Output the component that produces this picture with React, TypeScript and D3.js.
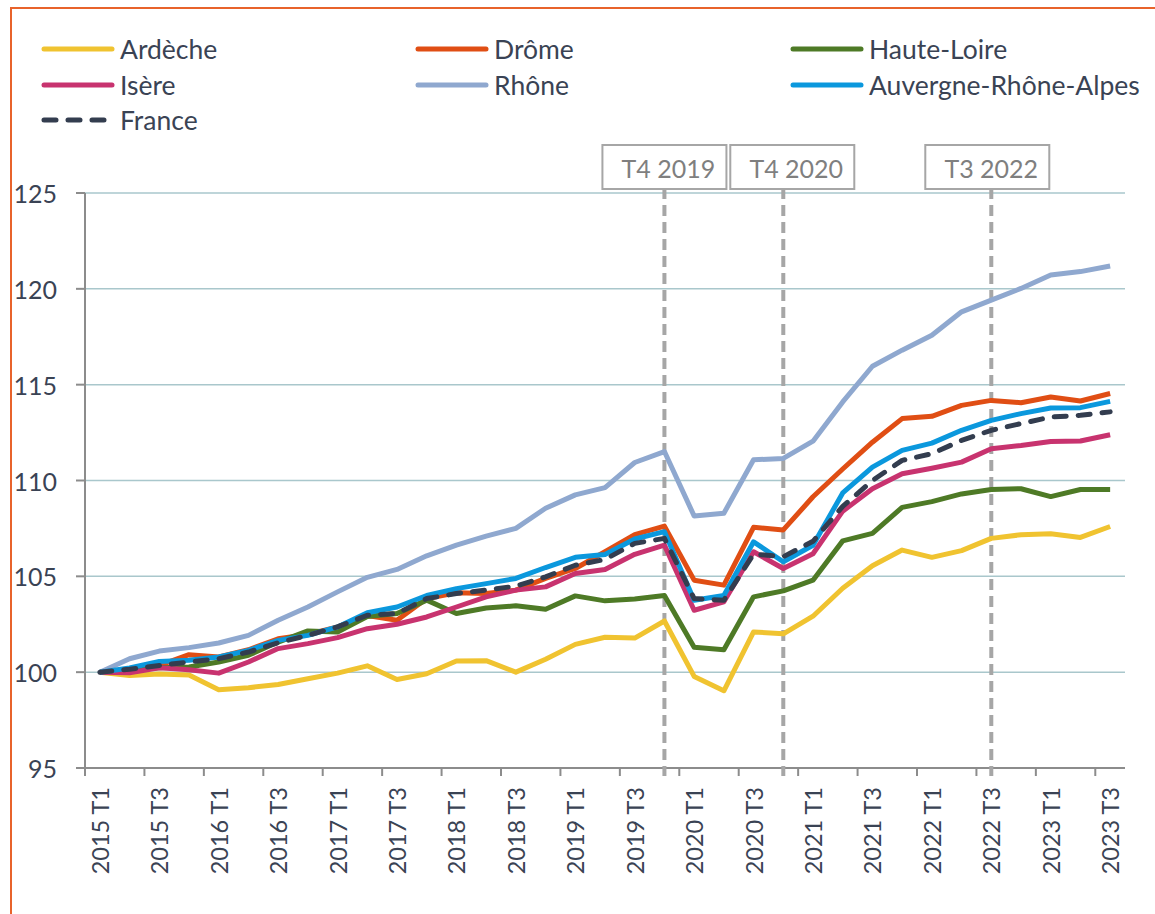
import React from "react";
import * as d3 from "d3";

const years = [2015, 2016, 2017, 2018, 2019, 2020, 2021, 2022, 2023];
const quarters: string[] = [];
years.forEach((y) => {
  for (let q = 1; q <= 4; q++) {
    if (y === 2023 && q > 3) break;
    quarters.push(`${y} T${q}`);
  }
});

const ardeche = [100, 99.83, 99.9, 99.85, 99.08, 99.19, 99.36, 99.66, 99.95, 100.33, 99.62, 99.92, 100.58, 100.6, 100.0, 100.67, 101.45, 101.82, 101.78, 102.67, 99.78, 99.03, 102.1, 102.0, 102.92, 104.38, 105.55, 106.37, 105.99, 106.34, 106.98, 107.17, 107.22, 107.03, 107.6];
const drome = [100, 100.1, 100.35, 100.91, 100.79, 101.17, 101.74, 101.97, 102.36, 102.95, 102.71, 103.84, 104.14, 104.1, 104.28, 104.89, 105.41, 106.28, 107.18, 107.62, 104.8, 104.54, 107.56, 107.42, 109.15, 110.6, 112.0, 113.23, 113.35, 113.92, 114.18, 114.06, 114.36, 114.15, 114.54];
const hauteLoire = [100, 100.1, 100.23, 100.27, 100.53, 100.88, 101.57, 102.15, 102.1, 102.9, 103.06, 103.76, 103.06, 103.35, 103.46, 103.28, 103.98, 103.72, 103.82, 104.0, 101.3, 101.17, 103.93, 104.24, 104.8, 106.85, 107.24, 108.6, 108.9, 109.3, 109.53, 109.57, 109.16, 109.53, 109.53];
const isere = [100, 99.97, 100.23, 100.13, 99.95, 100.53, 101.23, 101.49, 101.8, 102.27, 102.5, 102.88, 103.4, 103.93, 104.28, 104.45, 105.15, 105.36, 106.15, 106.63, 103.23, 103.67, 106.28, 105.41, 106.18, 108.4, 109.57, 110.35, 110.64, 110.96, 111.66, 111.83, 112.04, 112.06, 112.39];
const rhone = [100, 100.7, 101.1, 101.28, 101.52, 101.92, 102.71, 103.4, 104.19, 104.95, 105.36, 106.07, 106.63, 107.1, 107.5, 108.55, 109.25, 109.63, 110.94, 111.51, 108.15, 108.29, 111.08, 111.15, 112.05, 114.1, 115.96, 116.8, 117.58, 118.8, 119.41, 120.02, 120.72, 120.9, 121.19];
const ara = [100, 100.22, 100.56, 100.62, 100.79, 101.14, 101.66, 101.92, 102.36, 103.1, 103.4, 104.0, 104.36, 104.62, 104.89, 105.46, 105.99, 106.14, 106.95, 107.33, 103.75, 104.0, 106.8, 105.76, 106.62, 109.35, 110.7, 111.57, 111.95, 112.62, 113.14, 113.49, 113.78, 113.8, 114.13];
const france = [100, 100.15, 100.35, 100.53, 100.7, 101.05, 101.54, 101.92, 102.36, 102.97, 103.06, 103.84, 104.1, 104.28, 104.49, 104.97, 105.58, 105.88, 106.72, 106.98, 103.84, 103.75, 106.16, 106.02, 106.83, 108.65, 110.0, 111.05, 111.4, 112.09, 112.62, 112.97, 113.31, 113.4, 113.58];

const seriesNames = ["Ardèche", "Drôme", "Haute-Loire", "Isère", "Rhône", "Auvergne-Rhône-Alpes", "France"];
const seriesValues = [ardeche, drome, hauteLoire, isere, rhone, ara, france];
const seriesColors = ["#F0C330", "#E04E14", "#4E7A26", "#C8336F", "#8FA8CF", "#0B98DD", "#333D4F"];

const yTicks = [95, 100, 105, 110, 115, 120, 125];
const markerQuarters = ["2019 T4", "2020 T4", "2022 T3"];
const markerLabels = ["T4 2019", "T4 2020", "T3 2022"];
const markerBoxOffsets = [0, 9, -4];

const FONT = "Lato, 'Open Sans', sans-serif";
const TEXT = "#3A4354";

export default function App() {
  const left = 85, right = 1125, top = 193, bottom = 768;
  const x = d3.scaleBand<string>().domain(quarters).range([left, right]).padding(0);
  const y = d3.scaleLinear().domain([95, 125]).range([bottom, top]);
  const cx = (q: string) => (x(q) as number) + x.bandwidth() / 2;
  const line = d3
    .line<number>()
    .x((_, i) => cx(quarters[i]))
    .y((v) => y(v));

  const tickIdx = quarters.map((_, i) => i).filter((i) => i % 2 === 0);

  const legendCols = [42, 416, 791];
  const legendRows = [49, 85, 120];

  return (
    <svg width={1155} height={914} style={{ position: "absolute", left: 0, top: 0 }} fontFamily={FONT}>
      <rect x={0} y={0} width={1155} height={914} fill="#fff" />
      <rect x={11} y={8} width={1200} height={1000} fill="none" stroke="#E8632B" strokeWidth={2} />

      {/* gridlines */}
      {yTicks.map((t) => (
        <line key={t} x1={left} x2={right} y1={y(t)} y2={y(t)} stroke={t === 95 ? "#8C8C8C" : "#A9C7CC"} strokeWidth={1.5} />
      ))}
      {/* y axis */}
      <line x1={left} x2={left} y1={top} y2={bottom + 8} stroke="#8C8C8C" strokeWidth={2} />
      {yTicks.map((t) => (
        <g key={"yt" + t}>
          <line x1={left - 9} x2={left} y1={y(t)} y2={y(t)} stroke="#8C8C8C" strokeWidth={2} />
          <text x={57} y={y(t)} textAnchor="end" dominantBaseline="central" fontSize={25} fill={TEXT}>
            {t}
          </text>
        </g>
      ))}
      {/* x axis */}
      <line x1={left - 9} x2={right} y1={bottom} y2={bottom} stroke="#8C8C8C" strokeWidth={2} />
      {tickIdx.map((i) => (
        <line key={"xt" + i} x1={x(quarters[i]) as number} x2={x(quarters[i]) as number} y1={bottom} y2={bottom + 8} stroke="#8C8C8C" strokeWidth={2} />
      ))}
      {tickIdx.map((i) => (
        <text
          key={"xl" + i}
          transform={`translate(${cx(quarters[i])},${787}) rotate(-90)`}
          textAnchor="end"
          dominantBaseline="central"
          fontSize={23.5}
          fill={TEXT}
        >
          {quarters[i]}
        </text>
      ))}

      {/* marker lines */}
      {markerQuarters.map((q, k) => (
        <line key={"m" + k} x1={cx(q)} x2={cx(q)} y1={188} y2={bottom + 8} stroke="#A6A6A6" strokeWidth={4} strokeDasharray="11 6" />
      ))}
      {markerQuarters.map((q, k) => {
        const bx = cx(q) + markerBoxOffsets[k];
        return (
          <g key={"mb" + k}>
            <rect x={bx - 62} y={145} width={124} height={44} fill="#fff" stroke="#A6A6A6" strokeWidth={2} />
            <text x={bx + 4} y={168} textAnchor="middle" dominantBaseline="central" fontSize={25} fill="#7F7F7F">
              {markerLabels[k]}
            </text>
          </g>
        );
      })}

      {/* series */}
      {seriesValues.map((vals, s) => (
        <path
          key={"s" + s}
          d={line(vals) || ""}
          fill="none"
          stroke={seriesColors[s]}
          strokeWidth={5}
          strokeLinejoin="round"
          strokeLinecap={s === 6 ? "round" : "butt"}
          strokeDasharray={s === 6 ? "12 12" : undefined}
        />
      ))}

      {/* legend */}
      {seriesNames.map((name, s) => {
        const col = s % 3;
        const row = Math.floor(s / 3);
        const lx = legendCols[col];
        const ly = legendRows[row];
        return (
          <g key={"lg" + s}>
            <line
              x1={lx + 2}
              x2={lx + 70}
              y1={ly}
              y2={ly}
              stroke={seriesColors[s]}
              strokeWidth={5}
              strokeLinecap="round"
              strokeDasharray={s === 6 ? "12 12" : undefined}
            />
            <text x={lx + 78} y={ly} dominantBaseline="central" fontSize={26.5} fill={TEXT}>
              {name}
            </text>
          </g>
        );
      })}
    </svg>
  );
}
